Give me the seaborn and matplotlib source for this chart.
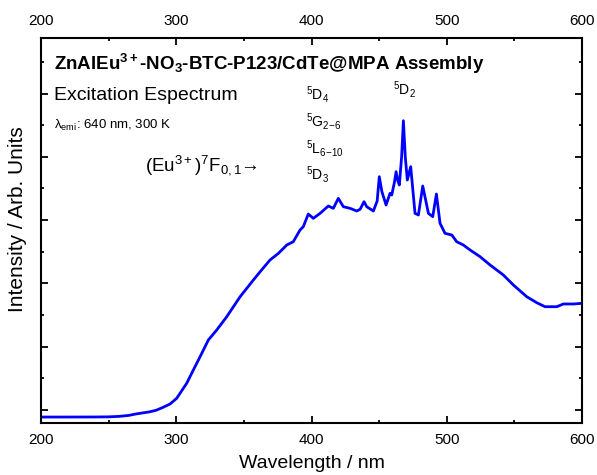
import matplotlib

matplotlib.use("Agg")
import matplotlib.pyplot as plt
import pandas as pd
import seaborn as sns
from matplotlib.ticker import MultipleLocator, NullFormatter

# excitation spectrum (arbitrary units)
wavelength = [
    200, 220, 240, 250, 258, 265, 270, 280, 285, 290, 295.4, 300.3, 307.7,
    312.6, 317.6, 323.7, 329.9, 337.3, 347.2, 357.0, 362.0, 369.3, 375.5,
    381.7, 386.5, 391.5, 393.9, 397.6, 401.3, 406.3, 412.4, 416.1, 419.8,
    423.5, 428.5, 433.4, 435.9, 438.8, 440.8, 445.7, 448.5, 450.1, 452.0,
    455.1, 458.0, 459.3, 461.3, 462.5, 463.8, 464.9, 466.6, 467.9, 469.3,
    470.8, 473.3, 476.5, 479.0, 482.2, 486.4, 489.6, 492.3, 495.0, 498.7,
    503.7, 507.3, 512.2, 517.2, 524.6, 532.0, 541.8, 549.2, 559.1, 566.5,
    572.6, 581.3, 586.2, 593.6, 600,
]
intensity = [
    -111, -111, -110, -108, -100, -85, -63, -30, -5, 40, 95, 185, 422,
    632, 842, 1106, 1264, 1474, 1790, 2054, 2185, 2370, 2475,
    2607, 2659, 2844, 2896, 3096, 3028, 3107, 3223, 3186, 3344,
    3212, 3186, 3144, 3171, 3291, 3212, 3144, 3300, 3686, 3450,
    3239, 3423, 3397, 3600, 3765, 3620, 3555, 4000, 4570, 4000,
    3633, 3844, 3107, 3081, 3539, 3107, 3054, 3412, 2949, 2791,
    2765, 2659, 2607, 2528, 2422, 2291, 2133, 1975, 1790, 1695,
    1632, 1632, 1675, 1675, 1686,
]

title = r"ZnAlEu$^{\mathbf{3+}}$-NO$_{\mathbf{3}}$-BTC-P123/CdTe@MPA Assembly"
subtitle = "Excitation Espectrum"
condition = r"$\lambda_{\mathrm{emi}}$: 640 nm, 300 K"
ground = r"(Eu$^{3+}$)$^{7}$F$_{0,1}$→"
levels = [r"$^{5}$D$_{4}$", r"$^{5}$G$_{2\!-\!6}$", r"$^{5}$L$_{6\!-\!10}$", r"$^{5}$D$_{3}$"]
level_y = [0.839, 0.769, 0.700, 0.631]
peak_label = r"$^{5}$D$_{2}$"

sns.set_theme(
    style="ticks",
    rc={
        "text.color": "black",
        "axes.labelcolor": "black",
        "xtick.color": "black",
        "ytick.color": "black",
    },
)
plt.rcParams["font.family"] = ["Liberation Sans", "DejaVu Sans"]
plt.rcParams["mathtext.fontset"] = "custom"
plt.rcParams["mathtext.rm"] = "Liberation Sans"
plt.rcParams["mathtext.it"] = "Liberation Sans"
plt.rcParams["mathtext.bf"] = "Liberation Sans:bold"
plt.rcParams["mathtext.default"] = "regular"

spectrum = pd.DataFrame({"Wavelength": wavelength, "Intensity": intensity})

fig = plt.figure(figsize=(5.97, 4.75), dpi=100)
ax = fig.add_axes([0.0687, 0.1095, 0.9063, 0.8105])
sns.lineplot(data=spectrum, x="Wavelength", y="Intensity", color="#0000ff",
             linewidth=2.0, ax=ax)

ax.set_xlim(200, 600)
ax.set_ylim(-205, 5877)
ax.xaxis.set_major_locator(MultipleLocator(100))
ax.xaxis.set_minor_locator(MultipleLocator(50))
ax.yaxis.set_major_locator(MultipleLocator(1000))
ax.yaxis.set_minor_locator(MultipleLocator(500))
ax.yaxis.set_major_formatter(NullFormatter())
ax.tick_params(which="both", direction="in", top=True, right=True,
               labeltop=True, labelbottom=True, width=1.3, color="black",
               labelsize=11, pad=7)
ax.tick_params(which="major", length=5)
ax.tick_params(which="minor", length=2.5)
for spine in ax.spines.values():
    spine.set_linewidth(1.5)
    spine.set_color("black")
    spine.set_visible(True)

ax.set_xlabel("Wavelength / nm", fontsize=14, labelpad=6)
ax.set_ylabel("Intensity / Arb. Units", fontsize=15)
ax.yaxis.set_label_coords(-0.026, 0.53)

ax.text(0.024, 0.917, title, transform=ax.transAxes, fontsize=13.5,
        fontweight="bold", va="baseline", ha="left")
ax.text(0.024, 0.839, subtitle, transform=ax.transAxes, fontsize=14,
        va="baseline", ha="left")
ax.text(0.024, 0.765, condition, transform=ax.transAxes, fontsize=9.5,
        va="baseline", ha="left")
ax.text(0.193, 0.655, ground, transform=ax.transAxes, fontsize=13.5,
        va="baseline", ha="left")
for lab, yy in zip(levels, level_y):
    ax.text(0.49, yy, lab, transform=ax.transAxes, fontsize=10,
            va="baseline", ha="left")
ax.text(0.650, 0.852, peak_label, transform=ax.transAxes, fontsize=10,
        va="baseline", ha="left")

fig.savefig("out.png", dpi=100, facecolor="white")
